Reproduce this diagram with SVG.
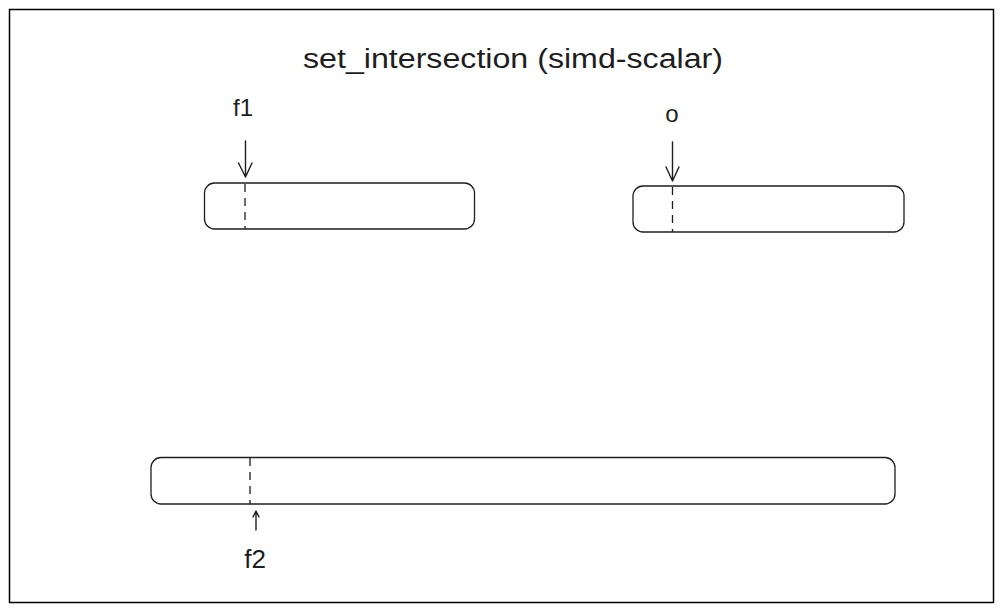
<svg xmlns="http://www.w3.org/2000/svg" width="1004" height="613" viewBox="0 0 1004 613">
<style>
.box{fill:#ffffff;stroke:#1e1e1e;stroke-width:1.3}
.dash{stroke:#1e1e1e;stroke-width:1.3;stroke-dasharray:8 6;fill:none}
.conn{stroke:#1e1e1e;stroke-width:1.4;fill:none;stroke-linecap:round;stroke-linejoin:round}
.lbl{font-family:"Liberation Sans",Arial,sans-serif;fill:#1e1e1e;text-anchor:middle}
</style>
<rect x="0" y="0" width="1004" height="613" fill="#ffffff"/>
<rect x="9.5" y="9.5" width="984" height="593" fill="#ffffff" stroke="#000000" stroke-width="1.5"/>
<g id="title"><text class="lbl" x="513" y="68" font-size="27" textLength="420" lengthAdjust="spacingAndGlyphs">set_intersection (simd-scalar)</text></g>
<g id="box-f1">
<rect class="box" x="204.5" y="183" width="270" height="46" rx="10"/>
<line class="dash" x1="245" y1="184" x2="245" y2="229"/>
</g>
<g id="box-o">
<rect class="box" x="633" y="186" width="271" height="46" rx="10"/>
<line class="dash" x1="672.5" y1="187" x2="672.5" y2="232"/>
</g>
<g id="box-f2">
<rect class="box" x="151" y="457.5" width="744" height="46.5" rx="10"/>
<line class="dash" x1="250" y1="458" x2="250" y2="504"/>
</g>
<g id="label-f1"><text class="lbl" x="243" y="116" font-size="24">f1</text></g>
<g id="label-o"><text class="lbl" x="672" y="122" font-size="24">o</text></g>
<g id="label-f2"><text class="lbl" x="255" y="568" font-size="26">f2</text></g>
<g id="connectors">
<path class="conn" d="M245.5 141 L245.5 177 M238.5 163 L245.5 177 L252 163"/>
<path class="conn" d="M672.5 142 L672.5 181 M666 167 L672.5 181 L679 167"/>
<path class="conn" d="M256 530 L256 511 M253 517 L256 511 L259 517"/>
</g>
</svg>
